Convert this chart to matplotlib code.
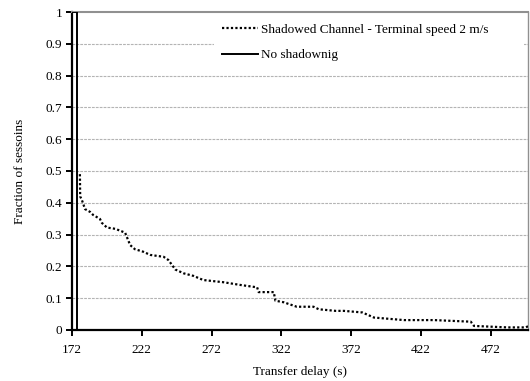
import matplotlib
matplotlib.use("Agg")
import matplotlib.pyplot as plt
import numpy as np

plt.rcParams['font.family'] = ['Liberation Serif', 'DejaVu Serif']
plt.rcParams['font.size'] = 9.5

# CCDF of transfer delay
shadow_delay = [177.6, 177.8, 179, 181.3, 185, 187, 192, 193.3, 197, 203, 210,
                213.6, 217, 223, 228, 237.6, 241, 246, 252, 259, 266, 280.6,
                292.6, 304.6, 305.7, 316.5, 317.7, 323.7, 327, 333, 345, 348.8,
                360.8, 366.8, 380, 388.3, 409.8, 431.3, 457.7, 460, 484, 497, 499]
shadow_frac = [0.49, 0.42, 0.409, 0.38, 0.371, 0.362, 0.349, 0.337, 0.322, 0.318, 0.306,
               0.267, 0.254, 0.246, 0.236, 0.230, 0.22, 0.19, 0.178, 0.17, 0.157, 0.15,
               0.1415, 0.134, 0.119, 0.119, 0.092, 0.087, 0.082, 0.073, 0.073, 0.065,
               0.06, 0.06, 0.055, 0.039, 0.031, 0.031, 0.026, 0.0126, 0.008, 0.008, 0.012]

noshadow_delay = [172, 175.6, 175.6, 178]
noshadow_frac = [1, 1, 0, 0]

xticks = [172, 222, 272, 322, 372, 422, 472]
yticks = [0, 0.1, 0.2, 0.3, 0.4, 0.5, 0.6, 0.7, 0.8, 0.9, 1]
ytick_labels = ['0', '0.1', '0.2', '0.3', '0.4', '0.5', '0.6', '0.7', '0.8', '0.9', '1']

fig = plt.figure(figsize=(5.3, 3.81), dpi=100)
ax = fig.add_axes([0.136, 0.134, 0.861, 0.8345])

for y in yticks[1:-1]:
    ax.axhline(y, color='#b4b4b4', lw=0.8, dashes=(2.5, 1), zorder=0)

ax.plot(shadow_delay, shadow_frac, color='black', lw=1.6, dashes=(1, 1),
        label='Shadowed Channel - Terminal speed 2 m/s', zorder=3)
ax.plot(noshadow_delay, noshadow_frac, color='black', lw=1.4,
        label='No shadownig', zorder=3)

ax.set_xlim(172, 499)
ax.set_ylim(0, 1)
ax.set_xticks(xticks)
ax.set_yticks(yticks)
ax.set_yticklabels(ytick_labels)
ax.tick_params(direction='out', length=4, width=1.4)
ax.tick_params(axis='x', pad=6)
ax.tick_params(axis='y', pad=3)

for s in ['left', 'bottom']:
    ax.spines[s].set_linewidth(1.6)
ax.spines['top'].set_color('#909090')
ax.spines['top'].set_linewidth(1.5)
ax.spines['right'].set_color('#909090')
ax.spines['right'].set_linewidth(1.0)

ax.set_xlabel('Transfer delay (s)', labelpad=7)
ax.set_ylabel('Fraction of sessoins', labelpad=14)

leg = ax.legend(loc='upper left', bbox_to_anchor=(0.311, 0.788, 0.68, 0.2),
                mode='expand', borderaxespad=0, handlelength=2.75,
                handletextpad=0.25, labelspacing=0.98, borderpad=0.6,
                fancybox=False, framealpha=1, edgecolor='none')
leg.set_zorder(2)

fig.savefig('out.png', dpi=100)
